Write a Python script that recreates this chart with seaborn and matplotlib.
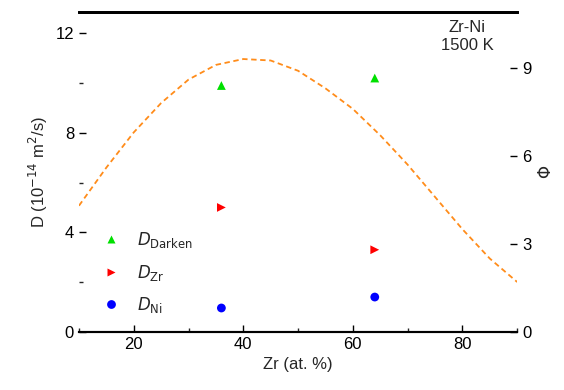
import numpy as np
import pandas as pd
import matplotlib
matplotlib.use("Agg")
import matplotlib.pyplot as plt
from matplotlib.ticker import MultipleLocator
import seaborn as sns

# ---- data ----
zr_points = [36, 64]
d_darken = [9.9, 10.2]
d_zr = [5.0, 3.3]
d_ni = [0.96, 1.4]

phi_x = [10, 15, 20, 25, 30, 35, 40, 45, 50, 55, 60, 65, 70, 75, 80, 85, 90]
phi_y = [4.3, 5.6, 6.8, 7.8, 8.6, 9.1, 9.3, 9.25, 8.9, 8.3, 7.6, 6.7, 5.7, 4.6, 3.5, 2.5, 1.7]

series_labels = ["$D_{\\mathrm{Darken}}$", "$D_{\\mathrm{Zr}}$", "$D_{\\mathrm{Ni}}$"]
series_colors = ["#00e000", "#ff0000", "#0000ff"]
series_markers = ["^", ">", "o"]

sns.set_theme(style="white")
plt.rcParams["font.family"] = ["Liberation Sans", "DejaVu Sans"]

fig = plt.figure(figsize=(5.64, 3.90), dpi=100)
ax = fig.add_axes([0.140, 0.149, 0.777, 0.820])

df = pd.DataFrame({
    "Zr": zr_points * 3,
    "D": d_darken + d_zr + d_ni,
    "kind": [series_labels[0]] * 2 + [series_labels[1]] * 2 + [series_labels[2]] * 2,
})
sns.scatterplot(data=df, x="Zr", y="D", hue="kind", style="kind",
                palette=dict(zip(series_labels, series_colors)),
                markers=dict(zip(series_labels, series_markers)),
                s=40, edgecolor="none", ax=ax, zorder=3)

ax2 = ax.twinx()
sns.lineplot(x=phi_x, y=phi_y, color="#ff8c1a", linestyle=(0, (3, 2)), lw=1.3, ax=ax2)

ax.set_xlim(10, 90)
ax.set_ylim(0, 12.85)
ax2.set_ylim(0, 10.9)

ax.xaxis.set_major_locator(MultipleLocator(20))
ax.xaxis.set_minor_locator(MultipleLocator(10))
ax.yaxis.set_major_locator(MultipleLocator(4))
ax.yaxis.set_minor_locator(MultipleLocator(2))
ax2.yaxis.set_major_locator(MultipleLocator(3))

for a in (ax, ax2):
    a.tick_params(which="major", direction="in", length=5, width=1, labelsize=12, colors="black")
    a.tick_params(which="minor", direction="in", length=3, width=1)
    a.spines["left"].set_visible(False)
    a.spines["right"].set_visible(False)
    a.spines["top"].set_linewidth(2)
    a.spines["bottom"].set_linewidth(1.5)
    a.spines["top"].set_color("black")
    a.spines["bottom"].set_color("black")
ax.tick_params(axis="y", which="both", left=True)
ax.tick_params(axis="x", which="both", bottom=True)
ax2.tick_params(axis="y", which="both", right=True)

ax.set_xlabel("Zr (at. %)", fontsize=12)
ax.set_ylabel("D (10$^{-14}$ m$^2$/s)", fontsize=12)
ax2.set_ylabel("$\\Phi$", fontsize=12)

ax.text(0.886, 0.975, "Zr-Ni\n1500 K", transform=ax.transAxes, ha="center", va="top",
        fontsize=12, linespacing=1.25)

ax.legend(loc="lower left", bbox_to_anchor=(0.0, 0.005), frameon=False, fontsize=12,
          handletextpad=0.6, labelspacing=0.75, title=None)

fig.savefig("out.png", dpi=100)
